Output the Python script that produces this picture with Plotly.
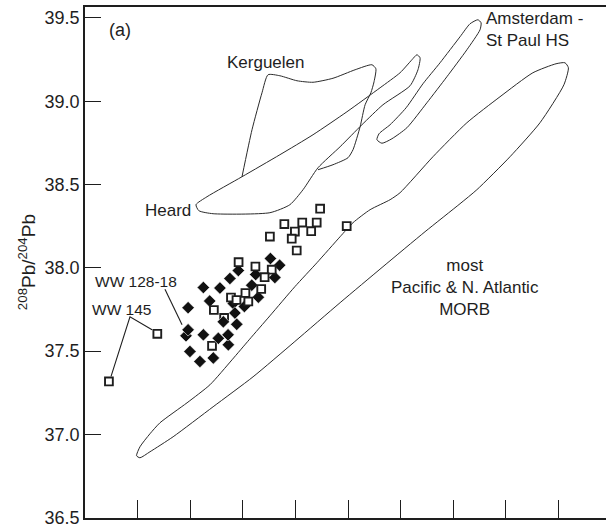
import plotly.graph_objects as go

# --- Data: 206Pb/204Pb (x) and 208Pb/204Pb (y) ---------------------------

# Fields from the literature (outlines)
morb_x = [17.196, 17.209, 17.247, 17.285, 17.388, 17.475, 17.559, 17.624, 17.703,
          17.798, 17.882, 17.970, 18.019, 18.084, 18.160, 18.198, 18.323, 18.452,
          18.578, 18.703, 18.791, 18.825, 18.838, 18.821, 18.730, 18.616, 18.490,
          18.426, 18.293, 18.133, 17.970, 17.798, 17.639, 17.487, 17.335, 17.247,
          17.209, 17.196]
morb_y = [36.872, 36.926, 37.004, 37.070, 37.190, 37.298, 37.448, 37.568, 37.712,
          37.887, 38.031, 38.187, 38.271, 38.349, 38.409, 38.451, 38.667, 38.871,
          39.027, 39.171, 39.225, 39.231, 39.201, 39.099, 38.871, 38.667, 38.469,
          38.385, 38.217, 38.007, 37.791, 37.558, 37.346, 37.166, 36.986, 36.896,
          36.860, 36.872]

heard_x = [18.274, 18.266, 18.236, 18.133, 18.053, 17.970, 17.886, 17.829, 17.779,
           17.703, 17.487, 17.433, 17.422, 17.464, 17.597, 17.741, 17.867, 17.996,
           18.122, 18.198, 18.243, 18.262, 18.274]
heard_y = [39.261, 39.189, 39.093, 38.979, 38.859, 38.727, 38.601, 38.469, 38.379,
           38.331, 38.325, 38.343, 38.379, 38.427, 38.547, 38.679, 38.799, 38.937,
           39.081, 39.171, 39.249, 39.279, 39.261]

kerg_x = [17.597, 17.635, 17.673, 17.696, 17.741, 17.806, 17.867, 17.943, 18.027,
          18.091, 18.106, 18.099, 18.087, 18.065, 18.046, 18.019, 18.000, 17.943,
          17.886]
kerg_y = [38.547, 38.829, 39.051, 39.159, 39.153, 39.123, 39.114, 39.138, 39.189,
          39.219, 39.195, 39.117, 39.051, 38.979, 38.847, 38.709, 38.661, 38.619,
          38.589]

ams_x = [18.494, 18.464, 18.426, 18.350, 18.285, 18.221, 18.160, 18.118, 18.110,
         18.129, 18.167, 18.224, 18.300, 18.376, 18.452, 18.502, 18.506, 18.494]
ams_y = [39.489, 39.465, 39.387, 39.231, 39.105, 38.961, 38.859, 38.805, 38.769,
         38.748, 38.775, 38.841, 38.991, 39.147, 39.309, 39.429, 39.471, 39.489]

# Samples: open squares
sq_x = [17.894, 17.758, 17.826, 17.881, 17.995, 17.703, 17.798, 17.860, 17.786,
        17.805, 17.584, 17.648, 17.710, 17.683, 17.670, 17.610, 17.555, 17.576,
        17.621, 17.490, 17.275, 17.091]
sq_y = [38.355, 38.263, 38.272, 38.272, 38.251, 38.188, 38.218, 38.220, 38.175,
        38.104, 38.034, 38.008, 37.989, 37.944, 37.873, 37.849, 37.822, 37.807,
        37.798, 37.747, 37.604, 37.318]

# Open squares lying underneath the diamonds
sq_under_x = [17.483, 17.529]
sq_under_y = [37.532, 37.700]

# Samples: filled diamonds
dia_x = [17.384, 17.705, 17.740, 17.583, 17.551, 17.649, 17.722, 17.450, 17.513,
         17.634, 17.659, 17.474, 17.564, 17.606, 17.392, 17.570, 17.526, 17.577,
         17.392, 17.450, 17.507, 17.545, 17.544, 17.399, 17.437, 17.488]
dia_y = [37.592, 38.056, 38.016, 37.984, 37.936, 37.960, 37.942, 37.882, 37.879,
         37.896, 37.824, 37.801, 37.786, 37.768, 37.761, 37.729, 37.676, 37.661,
         37.628, 37.598, 37.577, 37.538, 37.598, 37.498, 37.438, 37.459]

# Sample label leaders
ww128_x = [17.304, 17.369]
ww128_y = [37.872, 37.658]
ww145_x = [17.255, 17.171, 17.099]
ww145_y = [37.628, 37.706, 37.349]

y_ticks = [36.5, 37.0, 37.5, 38.0, 38.5, 39.0, 39.5]
y_tick_text = ["36.5", "37.0", "37.5", "38.0", "38.5", "39.0", "39.5"]
x_ticks = [17.2, 17.4, 17.6, 17.8, 18.0, 18.2, 18.4, 18.6, 18.8]

FONT = "Liberation Sans, Arial, Helvetica, sans-serif"
INK = "#1e1e1e"

fig = go.Figure()

outline = dict(color="#2a2a2a", width=1, shape="spline", smoothing=0.6)
for xs, ys in [(morb_x, morb_y), (heard_x, heard_y), (kerg_x, kerg_y), (ams_x, ams_y)]:
    fig.add_trace(go.Scatter(x=xs, y=ys, mode="lines", line=outline,
                             hoverinfo="skip", showlegend=False))

for xs, ys in [(ww128_x, ww128_y), (ww145_x, ww145_y)]:
    fig.add_trace(go.Scatter(x=xs, y=ys, mode="lines",
                             line=dict(color=INK, width=1.1),
                             hoverinfo="skip", showlegend=False))

square_marker = dict(symbol="square", size=7.8, color="white",
                     line=dict(color=INK, width=1.9))

fig.add_trace(go.Scatter(x=sq_under_x, y=sq_under_y, mode="markers",
                         marker=square_marker, showlegend=False))
fig.add_trace(go.Scatter(x=dia_x, y=dia_y, mode="markers",
                         marker=dict(symbol="diamond", size=9.6, color="#111111",
                                     line=dict(color="white", width=0.6)),
                         showlegend=False))
fig.add_trace(go.Scatter(x=sq_x, y=sq_y, mode="markers",
                         marker=square_marker, showlegend=False))

labels = [
    ("(a)", 17.133, 39.429, "center", 18),
    ("Kerguelen", 17.690, 39.233, "center", 17),
    ("Heard", 17.411, 38.345, "right", 17),
    ("Amsterdam -<br>St Paul HS", 18.517, 39.432, "left", 17),
    ("most<br>Pacific &amp; N. Atlantic<br>MORB", 18.444, 37.885, "center", 17),
    ("WW 128-18", 17.194, 37.918, "center", 15.5),
    ("WW 145", 17.140, 37.748, "center", 15.5),
]
for text, x, y, anchor, size in labels:
    fig.add_annotation(x=x, y=y, text=text, showarrow=False, xanchor=anchor,
                       yanchor="middle", align=anchor,
                       font=dict(family=FONT, size=size, color=INK))

# y-axis title
fig.add_annotation(xref="paper", yref="paper", x=-0.112, y=0.5,
                   text="<sup>208</sup>Pb/<sup>204</sup>Pb", textangle=-90,
                   showarrow=False, xanchor="center", yanchor="middle",
                   font=dict(family=FONT, size=19, color=INK))

fig.update_layout(
    width=606, height=524,
    margin=dict(l=85, r=0, t=7, b=6, autoexpand=False),
    paper_bgcolor="white", plot_bgcolor="white",
    showlegend=False,
    xaxis=dict(range=[17.0, 17.0 + 521 / 263], showgrid=False, zeroline=False,
               showline=True, linecolor=INK, linewidth=1.5, mirror=True,
               tickmode="array", tickvals=x_ticks, ticks="inside", ticklen=18,
               tickwidth=1.3, tickcolor=INK, showticklabels=False,
               automargin=False),
    yaxis=dict(range=[36.4985, 36.4985 + 511 / 166.6], showgrid=False, zeroline=False,
               showline=True, linecolor=INK, linewidth=1.5, mirror=False,
               tickmode="array", tickvals=y_ticks, ticktext=y_tick_text,
               ticks="inside", ticklen=16, tickwidth=1.3, tickcolor=INK,
               ticklabeloverflow="allow", automargin=False,
               tickfont=dict(family=FONT, size=18, color=INK)),
)

fig.write_html("out.html")
